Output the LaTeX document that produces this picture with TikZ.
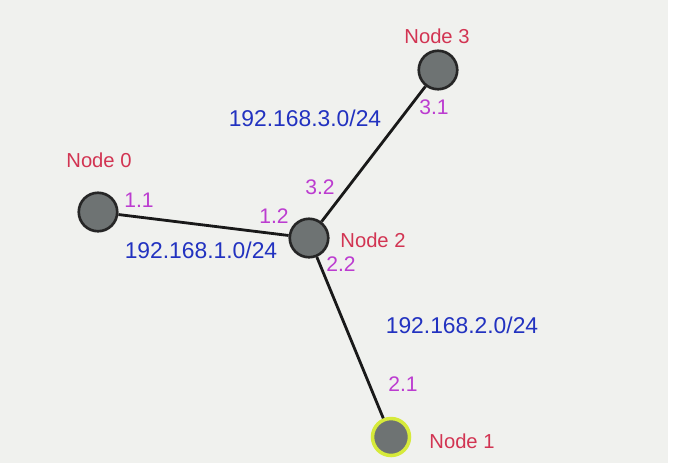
\documentclass[tikz,border=0pt]{standalone}
\usepackage{fontspec}
\setmainfont{Liberation Sans}
\usepackage{xcolor}
\usetikzlibrary{shapes, positioning}

\definecolor{bgcol}{HTML}{F0F1EE}
\definecolor{hostgray}{HTML}{6E7373}
\definecolor{namered}{HTML}{D23452}
\definecolor{ifmagenta}{HTML}{BC3CD0}
\definecolor{netblue}{HTML}{2232C0}
\definecolor{glowyellow}{HTML}{D6EA3A}

\begin{document}
\begin{tikzpicture}[x=0.02cm, y=-0.02cm]
                \tikzset{
                  host/.style={
                    circle,
                    draw=black!85,
                    line width=1.5pt, % border of the hosts
                    fill=hostgray,
                    minimum size=0.77cm,
                    inner sep=0pt,
                  },
                  hostname/.style={text=namered, font=\fontsize{11.5}{13}\selectfont},
                  iface/.style={text=ifmagenta, font=\fontsize{12}{14}\selectfont},
                  subnet/.style={text=netblue, font=\fontsize{13}{15}\selectfont},
                  link/.style={line width=1.6pt, black!90},
                }

                \useasboundingbox (0,0) rectangle (675,467);
                \fill[bgcol] (0,0) rectangle (668,463);

                % hosts
                \node[host] (n0) at (98,212) {};
                \node[host] (n2) at (309,238) {};
                \node[host] (n3) at (438,70) {};
                \node[host, draw=glowyellow, line width=2pt, minimum size=0.74cm] (n1) at (391,437) {};

                % links
                \draw[link] (n0) -- (n2);
                \draw[link] (n2) -- (n3);
                \draw[link] (n2) -- (n1);

                % host names
                \node[hostname] (l0) at (99,160) {Node 0};
                \node[hostname] (l1) at (462,441) {Node 1};
                \node[hostname] (l2) at (373,240) {Node 2};
                \node[hostname] (l3) at (437,36) {Node 3};

                % interface addresses
                \node[iface] (i11) at (139,200) {1.1};
                \node[iface] (i12) at (274,216) {1.2};
                \node[iface] (i32) at (320,187) {3.2};
                \node[iface] (i22) at (341,264) {2.2};
                \node[iface] (i31) at (434,107) {3.1};
                \node[iface] (i21) at (403,384) {2.1};

                % subnets
                \node[subnet] (s3) at (305,118) {192.168.3.0/24};
                \node[subnet] (s1) at (201,250) {192.168.1.0/24};
                \node[subnet] (s2) at (462,325) {192.168.2.0/24};
              \end{tikzpicture}
\end{document}
